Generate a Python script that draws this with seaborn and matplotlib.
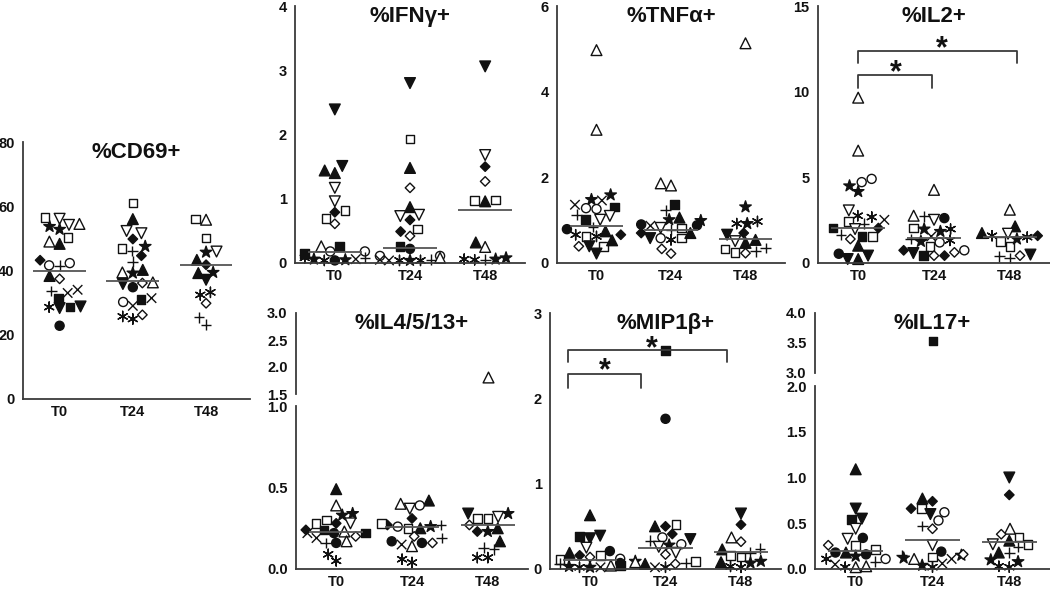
import warnings
import pandas as pd
import matplotlib
matplotlib.use('Agg')
import matplotlib.pyplot as plt
import seaborn as sns
from matplotlib.markers import MarkerStyle
from matplotlib.transforms import Affine2D

warnings.filterwarnings('ignore')

times = ['T0', 'T24', 'T48']

# (symbol, value) per donor; trailing "f" = filled symbol
cd69_t0 = [('v', 54.2), ('v', 56.1), ('*', 52.8), ('*', 53.7), ('s', 56.5), ('s', 50.2), ('^', 54.5), ('^', 49.0),
           ('^f', 48.3), ('^f', 38.3), ('o', 42.3), ('o', 41.6), ('df', 43.2), ('d', 37.4), ('x', 34.0), ('x', 33.0),
           ('+', 33.6), ('+', 41.5), ('sf', 28.6), ('sf', 31.4), ('a', 28.6), ('vf', 28.3), ('vf', 28.8), ('of', 22.8)]
cd69_t24 = [('s', 61.0), ('s', 46.9), ('^f', 56.0), ('^f', 40.2), ('v', 51.6), ('v', 52.3), ('df', 49.8), ('df', 44.6),
            ('*', 47.5), ('*', 39.2), ('+', 42.8), ('+', 46.1), ('^', 39.4), ('^', 36.3), ('d', 36.1), ('d', 26.2),
            ('of', 34.8), ('vf', 35.8), ('sf', 30.9), ('o', 30.2), ('x', 31.4), ('x', 29.0), ('a', 24.9), ('a', 25.7)]
cd69_t48 = [('s', 56.0), ('s', 50.1), ('^', 55.8), ('*', 45.7), ('*', 39.4), ('v', 45.9), ('df', 41.8), ('^f', 43.3),
            ('^f', 39.2), ('vf', 37.1), ('a', 32.4), ('a', 33.2), ('d', 29.8), ('+', 23.1), ('+', 25.4)]
cd69_mid = [39.7, 36.8, 41.6]

ifn_t0 = [('vf', 2.39), ('^f', 1.44), ('^f', 1.40), ('vf', 1.51), ('v', 1.17), ('v', 0.96), ('df', 0.79), ('s', 0.82),
          ('s', 0.69), ('d', 0.61), ('^', 0.26), ('sf', 0.26), ('sf', 0.15), ('o', 0.18), ('o', 0.18), ('of', 0.04),
          ('*', 0.05), ('*', 0.06), ('a', 0.08), ('a', 0.04), ('x', 0.06), ('+', 0.08)]
ifn_t24 = [('vf', 2.80), ('s', 1.93), ('^f', 1.48), ('d', 1.17), ('^f', 0.87), ('v', 0.75), ('v', 0.73), ('df', 0.67),
           ('df', 0.49), ('s', 0.53), ('d', 0.42), ('sf', 0.26), ('of', 0.22), ('o', 0.11), ('o', 0.11), ('^', 0.08),
           ('x', 0.04), ('x', 0.05), ('a', 0.04), ('a', 0.04), ('*', 0.04), ('+', 0.05)]
ifn_t48 = [('vf', 3.06), ('v', 1.68), ('df', 1.50), ('d', 1.27), ('s', 0.97), ('s', 0.98), ('^f', 0.96), ('^f', 0.32),
           ('^', 0.25), ('a', 0.05), ('*', 0.06), ('*', 0.08), ('a', 0.06), ('+', 0.05)]
ifn_mid = [0.17, 0.23, 0.82]

tnf_t0 = [('^', 4.97), ('^', 3.11), ('*', 1.59), ('*', 1.48), ('x', 1.46), ('x', 1.36), ('sf', 1.31), ('sf', 1.01),
          ('o', 1.26), ('o', 1.28), ('v', 1.10), ('v', 1.01), ('+', 1.13), ('+', 0.84), ('of', 0.79), ('a', 0.66),
          ('a', 0.62), ('s', 0.62), ('s', 0.39), ('df', 0.66), ('^f', 0.74), ('^f', 0.53), ('d', 0.39), ('vf', 0.22),
          ('vf', 0.39)]
tnf_t24 = [('^', 1.81), ('^', 1.86), ('sf', 1.36), ('+', 1.23), ('*', 1.01), ('*', 0.99), ('^f', 1.06), ('of', 0.88),
           ('of', 0.90), ('x', 0.87), ('v', 0.82), ('s', 0.58), ('s', 0.82), ('df', 0.70), ('vf', 0.58), ('o', 0.58),
           ('^f', 0.70), ('a', 0.54), ('d', 0.22), ('d', 0.33), ('+', 0.78)]
tnf_t48 = [('^', 5.13), ('*', 1.31), ('*', 0.92), ('a', 0.97), ('a', 0.92), ('df', 0.70), ('vf', 0.66), ('^f', 0.47),
           ('^f', 0.54), ('v', 0.51), ('+', 0.27), ('d', 0.23), ('s', 0.25), ('s', 0.33), ('+', 0.35)]
tnf_mid = [0.87, 0.76, 0.57]

il2_t0 = [('^', 9.65), ('^', 6.56), ('o', 4.72), ('o', 4.91), ('*', 4.17), ('*', 4.50), ('v', 3.07), ('a', 2.68),
          ('a', 2.76), ('x', 2.52), ('s', 2.43), ('s', 1.55), ('+', 2.29), ('+', 1.65), ('sf', 2.04), ('sf', 1.55),
          ('df', 2.04), ('v', 1.98), ('d', 1.40), ('^f', 1.01), ('^f', 0.23), ('vf', 0.43), ('vf', 0.23), ('of', 0.54)]
il2_t24 = [('^', 4.27), ('v', 2.52), ('+', 2.72), ('^', 2.76), ('of', 2.62), ('s', 2.04), ('*', 1.98), ('*', 1.84),
           ('*', 1.26), ('a', 1.98), ('a', 1.32), ('x', 1.55), ('o', 1.20), ('o', 0.74), ('s', 0.97), ('df', 0.74),
           ('df', 0.43), ('d', 0.43), ('d', 0.62), ('vf', 0.58), ('sf', 0.43), ('+', 1.40)]
il2_t48 = [('^', 3.11), ('^f', 2.14), ('^f', 1.75), ('v', 1.71), ('a', 1.59), ('a', 1.51), ('s', 1.26), ('s', 0.97),
           ('df', 1.59), ('*', 1.40), ('vf', 0.49), ('+', 0.29), ('+', 0.39), ('d', 0.43)]
il2_mid = [2.04, 1.46, 1.51]

il4_t0 = [('^f', 0.49), ('^', 0.39), ('*', 0.34), ('*', 0.33), ('s', 0.30), ('s', 0.28), ('v', 0.28), ('df', 0.28),
          ('df', 0.24), ('sf', 0.24), ('sf', 0.22), ('of', 0.22), ('of', 0.16), ('d', 0.20), ('x', 0.22), ('x', 0.19),
          ('^', 0.23), ('^', 0.17), ('+', 0.16), ('a', 0.05), ('a', 0.09)]
il4_t24 = [('^f', 0.42), ('o', 0.39), ('v', 0.37), ('^', 0.40), ('df', 0.31), ('df', 0.27), ('o', 0.26), ('s', 0.28),
           ('s', 0.25), ('^f', 0.25), ('*', 0.26), ('+', 0.27), ('+', 0.19), ('of', 0.17), ('of', 0.16), ('d', 0.20),
           ('d', 0.16), ('x', 0.15), ('^', 0.14), ('a', 0.04), ('a', 0.06)]
il4_t48 = [('^', 1.81), ('*', 0.34), ('*', 0.23), ('v', 0.32), ('s', 0.31), ('s', 0.31), ('vf', 0.34), ('^f', 0.25),
           ('^f', 0.17), ('d', 0.27), ('df', 0.23), ('+', 0.12), ('+', 0.13), ('a', 0.07), ('a', 0.07)]
il4_mid = [0.23, 0.26, 0.27]

mip_t0 = [('^f', 0.63), ('vf', 0.36), ('vf', 0.39), ('sf', 0.38), ('of', 0.21), ('v', 0.25), ('df', 0.16), ('^f', 0.19),
          ('s', 0.16), ('s', 0.11), ('d', 0.14), ('o', 0.12), ('of', 0.07), ('^', 0.04), ('*', 0.02), ('*', 0.03),
          ('a', 0.02), ('x', 0.02), ('+', 0.06), ('sf', 0.04)]
mip_t24 = [('sf', 2.56), ('of', 1.76), ('s', 0.52), ('df', 0.50), ('df', 0.41), ('^f', 0.50), ('o', 0.37), ('o', 0.29),
           ('vf', 0.35), ('+', 0.33), ('*', 0.28), ('*', 0.09), ('d', 0.17), ('d', 0.06), ('v', 0.19), ('v', 0.26),
           ('^', 0.08), ('s', 0.09), ('^f', 0.06), ('+', 0.07), ('a', 0.02), ('x', 0.02)]
mip_t48 = [('vf', 0.65), ('df', 0.52), ('^', 0.37), ('d', 0.32), ('+', 0.24), ('+', 0.19), ('^f', 0.23), ('^f', 0.08),
           ('s', 0.16), ('s', 0.14), ('*', 0.07), ('*', 0.09), ('a', 0.02), ('a', 0.03)]
mip_mid = [0.10, 0.25, 0.20]

il17_t0 = [('^f', 1.09), ('vf', 0.66), ('vf', 0.55), ('sf', 0.54), ('v', 0.44), ('of', 0.34), ('v', 0.33), ('d', 0.26),
           ('s', 0.26), ('s', 0.21), ('of', 0.18), ('of', 0.16), ('^f', 0.18), ('*', 0.14), ('o', 0.11), ('a', 0.11),
           ('a', 0.02), ('+', 0.08), ('^', 0.03), ('^', 0.02), ('x', 0.05)]
il17_t24 = [('sf', 3.54), ('^f', 0.77), ('df', 0.74), ('df', 0.66), ('s', 0.66), ('o', 0.62), ('o', 0.53), ('vf', 0.60),
            ('+', 0.47), ('d', 0.44), ('v', 0.26), ('of', 0.19), ('*', 0.15), ('*', 0.04), ('*', 0.12), ('d', 0.16),
            ('^', 0.11), ('s', 0.13), ('x', 0.11), ('x', 0.06), ('a', 0.02), ('+', 0.15)]
il17_t48 = [('vf', 1.00), ('df', 0.81), ('^', 0.44), ('d', 0.38), ('s', 0.35), ('s', 0.27), ('v', 0.27), ('^f', 0.31),
            ('^f', 0.18), ('+', 0.24), ('+', 0.18), ('*', 0.08), ('*', 0.10), ('a', 0.02), ('a', 0.03)]
il17_mid = [0.20, 0.32, 0.29]

sns.set_style('white')
plt.rcParams['font.family'] = ['Liberation Sans', 'DejaVu Sans']
plt.rcParams['font.weight'] = 'bold'

INK = '#111111'
AXC = '#3a3a3a'
W, H = 1050, 591

shapes = {'^': ('^', 1.25), 'v': ('v', 1.25), 's': ('s', 1.0), 'o': ('o', 1.05), 'd': ('D', 0.78),
          '*': ('*', 1.4), 'a': ((6, 2, 0), 1.2), 'x': ('x', 1.1), '+': ('+', 1.25)}


def marker_path(code):
    m, k = shapes[code.rstrip('f')]
    ms = MarkerStyle(m)
    return ms.get_path().transformed(ms.get_transform() + Affine2D().scale(k))


def face(code):
    if code.endswith('f') or code == '*':
        return INK
    if code in ('a', 'x', '+'):
        return 'none'
    return 'white'


def frame(groups):
    rows = []
    for t, g in zip(times, groups):
        for code, v in g:
            rows.append({'time': t, 'value': v, 'code': code})
    return pd.DataFrame(rows)


fig = plt.figure(figsize=(W / 100, H / 100), dpi=100)


def axes_px(l, t, r, b):
    return fig.add_axes([l / W, 1 - b / H, (r - l) / W, (b - t) / H])


def swarm(ax, df):
    sns.swarmplot(data=df, x='time', y='value', order=times, size=6.2, color=INK, ax=ax)
    for coll in ax.collections:
        off = coll.get_offsets()
        if len(off) == 0:
            continue
        sub = df[df['time'] == times[int(round(off[0, 0]))]]
        coll.set_paths([marker_path(c) for c in sub['code']])
        coll.set_facecolors([face(c) for c in sub['code']])
        coll.set_edgecolor(INK)
        coll.set_linewidth(1.0)
        coll.set_clip_on(False)
        coll.set_zorder(2)


def style(ax, ylim, ticks, labels, bottom=True, xlim=(-0.53, 2.53)):
    ax.set_xlim(*xlim)
    ax.set_ylim(*ylim)
    ax.set_yticks(ticks)
    ax.set_yticklabels(labels)
    ax.set_xlabel('')
    ax.set_ylabel('')
    ax.patch.set_alpha(0)
    for s in ['top', 'right']:
        ax.spines[s].set_visible(False)
    for s in ['left', 'bottom']:
        ax.spines[s].set_color(AXC)
        ax.spines[s].set_linewidth(1.3)
    if bottom:
        ax.set_xticks(range(3))
        ax.set_xticklabels(times)
    else:
        ax.spines['bottom'].set_visible(False)
        ax.set_xticks([])
    ax.tick_params(direction='out', length=4, width=1.3, color=AXC, labelsize=10.5, pad=2, labelcolor=INK)
    ax.tick_params(axis='x', length=3, pad=1)


def mids(ax, vals):
    ax.hlines(vals, [i - 0.36 for i in range(3)], [i + 0.36 for i in range(3)], color='#555555', lw=1.3, zorder=3)


def title(ax, text):
    ax.text(0.5, 1.0, text, transform=ax.transAxes, ha='center', va='top', fontsize=16, fontweight='bold', color=INK)


def bracket(ax, x0, x1, yend, ytop):
    ax.plot([x0, x0, x1, x1], [yend, ytop, ytop, yend], color=AXC, lw=1.3, clip_on=False, zorder=4)


def star(ax, x, y):
    ax.annotate('*', (x, y), xytext=(0, -12.5), textcoords='offset points', ha='center', va='baseline',
                fontsize=22, fontweight='bold', color=INK)


def panel(box, groups, mid, name, ylim, ticks, labels, xlim=(-0.53, 2.53)):
    ax = axes_px(*box)
    swarm(ax, frame(groups))
    style(ax, ylim, ticks, labels, xlim=xlim)
    mids(ax, mid)
    title(ax, name)
    return ax


def broken_panel(box_low, box_high, groups, mid, name, cut, lim_low, t_low, l_low, lim_high, t_high, l_high):
    df = frame(groups)
    lo = axes_px(*box_low)
    swarm(lo, df[df['value'] <= cut])
    style(lo, lim_low, t_low, l_low)
    mids(lo, mid)
    hi = axes_px(*box_high)
    swarm(hi, df[df['value'] > cut])
    style(hi, lim_high, t_high, l_high, bottom=False)
    title(hi, name)
    return lo, hi


panel((23, 142, 250, 399), [cd69_t0, cd69_t24, cd69_t48], cd69_mid, '%CD69+', (0, 80),
      [0, 20, 40, 60, 80], ['0', '20', '40', '60', '80'], xlim=(-0.5, 2.6))
panel((295, 6, 525, 263), [ifn_t0, ifn_t24, ifn_t48], ifn_mid, '%IFNγ+', (0, 4),
      [0, 1, 2, 3, 4], ['0', '1', '2', '3', '4'])
panel((557, 6, 785, 263), [tnf_t0, tnf_t24, tnf_t48], tnf_mid, '%TNFα+', (0, 6),
      [0, 2, 4, 6], ['0', '2', '4', '6'])
ax_il2 = panel((818, 6, 1050, 263), [il2_t0, il2_t24, il2_t48], il2_mid, '%IL2+', (0, 15),
               [0, 5, 10, 15], ['0', '5', '10', '15'])
bracket(ax_il2, 0, 0.98, 10.2, 10.97)
bracket(ax_il2, 0, 2.1, 11.65, 12.39)
star(ax_il2, 0.49, 11.65)
star(ax_il2, 1.1, 13.05)

broken_panel((296, 406, 528, 569), (296, 313, 528, 394), [il4_t0, il4_t24, il4_t48], il4_mid, '%IL4/5/13+', 1.0,
             (0, 1.0), [0, 0.5, 1.0], ['0.0', '0.5', '1.0'],
             (1.5, 3.0), [1.5, 2.0, 2.5, 3.0], ['1.5', '2.0', '2.5', '3.0'])

ax_mip = panel((550, 313, 781, 569), [mip_t0, mip_t24, mip_t48], mip_mid, '%MIP1β+', (0, 3),
               [0, 1, 2, 3], ['0', '1', '2', '3'])
bracket(ax_mip, -0.29, 0.68, 2.12, 2.28)
bracket(ax_mip, -0.29, 1.81, 2.42, 2.57)
star(ax_mip, 0.2, 2.43)
star(ax_mip, 0.82, 2.69)

broken_panel((815, 386, 1050, 569), (815, 313, 1050, 373), [il17_t0, il17_t24, il17_t48], il17_mid, '%IL17+', 2.0,
             (0, 2.0), [0, 0.5, 1.0, 1.5, 2.0], ['0.0', '0.5', '1.0', '1.5', '2.0'],
             (3.0, 4.0), [3.0, 3.5, 4.0], ['3.0', '3.5', '4.0'])

fig.savefig('out.png', dpi=100, facecolor='white')
